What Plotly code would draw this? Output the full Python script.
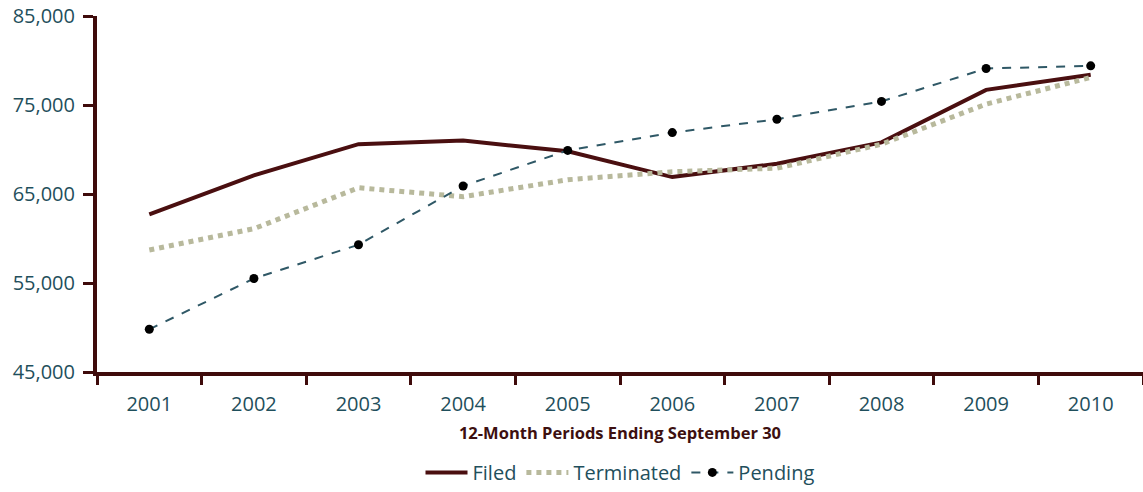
import plotly.graph_objects as go

years = ["2001", "2002", "2003", "2004", "2005", "2006", "2007", "2008", "2009", "2010"]
filed = [62700, 67100, 70600, 71000, 69800, 66900, 68400, 70800, 76700, 78400]
terminated = [58700, 61100, 65700, 64700, 66600, 67500, 67900, 70600, 75100, 78100]
pending = [49800, 55500, 59300, 65900, 69900, 71900, 73400, 75400, 79100, 79400]
y_ticks = [45000, 55000, 65000, 75000, 85000]

axis_col = "#3f0b0b"
text_col = "#1f4f5c"

fig = go.Figure()
fig.add_trace(go.Scatter(x=years, y=filed, name="Filed", mode="lines",
                         line=dict(color="#4a0f10", width=4)))
fig.add_trace(go.Scatter(x=years, y=terminated, name="Terminated", mode="lines",
                         line=dict(color="#b8b99c", width=5, dash="dot")))
fig.add_trace(go.Scatter(x=years, y=pending, name="Pending", mode="lines+markers",
                         line=dict(color="#2f5866", width=2, dash="dash"),
                         marker=dict(color="black", size=9)))

fig.update_layout(
    width=1143, height=492,
    margin=dict(l=97, r=0, t=16, b=118),
    plot_bgcolor="white", paper_bgcolor="white",
    font=dict(family="Open Sans", color=text_col),
    legend=dict(orientation="h", x=0.5, xanchor="center", y=-0.282, yanchor="middle",
                font=dict(size=20, color=text_col), traceorder="normal",
                itemwidth=42),
    xaxis=dict(type="category", range=[-0.5, 9.5], showline=True, linecolor=axis_col,
               linewidth=4, ticks="outside", tickson="boundaries", ticklen=9,
               tickwidth=3, tickcolor=axis_col, showgrid=False, automargin=False,
               ticklabelstandoff=11, ticklabeloverflow="allow",
               tickfont=dict(size=20, color=text_col),
               title=dict(text="<b>12-Month Periods Ending September 30</b>",
                          font=dict(size=16.5, color="#3d1010"), standoff=12)),
    yaxis=dict(range=[45000, 85000], tickvals=y_ticks, tickformat=",d",
               showline=True, linecolor=axis_col, linewidth=4, ticks="outside",
               ticklen=10, tickwidth=3, tickcolor=axis_col, showgrid=False,
               automargin=False, ticklabelstandoff=4, ticklabeloverflow="allow",
               zeroline=False, tickfont=dict(size=20, color=text_col)),
)
fig.write_html("out.html", config={"displayModeBar": False},
               post_script="document.body.style.margin='0';")
